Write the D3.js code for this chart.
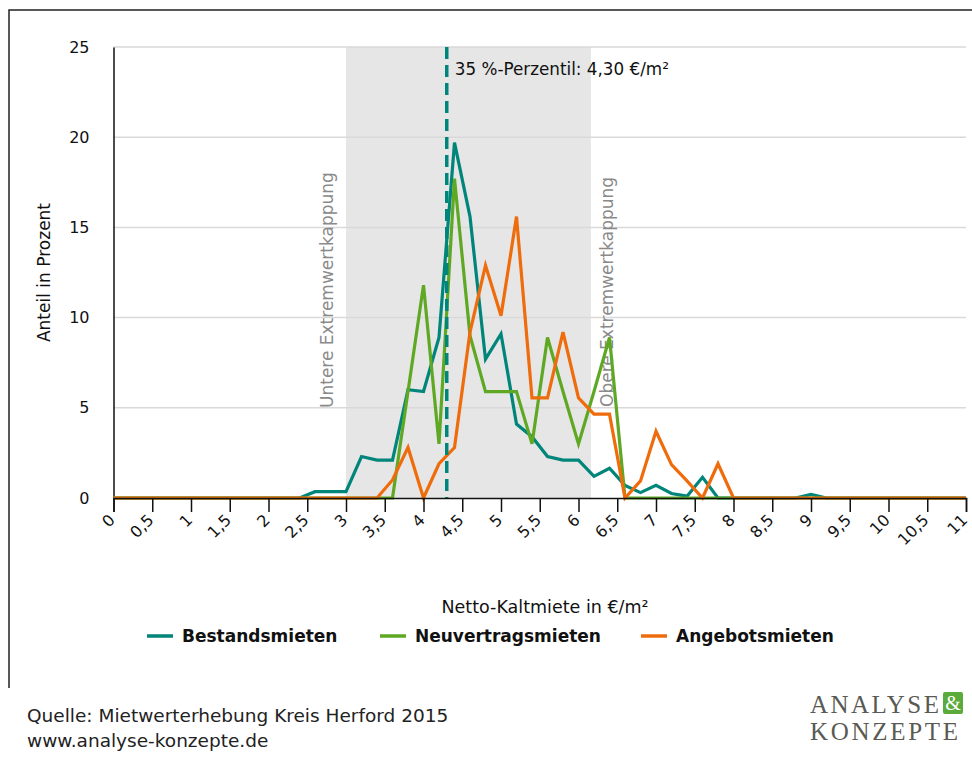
<!DOCTYPE html>
<html>
<head>
<meta charset="utf-8">
<script src="https://cdn.jsdelivr.net/npm/d3@7"></script>
<style>
  body { margin: 0; background: #fff; }
  svg { display: block; font-family: "DejaVu Sans", Verdana, sans-serif; }
</style>
</head>
<body>
<div id="result"></div>
<script>
// Mietpreise in €/m², Schritte zu 0,2
var miete = [0, 0.2, 0.4, 0.6, 0.8, 1, 1.2, 1.4, 1.6, 1.8, 2, 2.2, 2.4, 2.6, 2.8, 3, 3.2, 3.4, 3.6, 3.8,
  4, 4.2, 4.4, 4.6, 4.8, 5, 5.2, 5.4, 5.6, 5.8, 6, 6.2, 6.4, 6.6, 6.8, 7, 7.2, 7.4, 7.6, 7.8,
  8, 8.2, 8.4, 8.6, 8.8, 9, 9.2, 9.4, 9.6, 9.8, 10, 10.2, 10.4, 10.6, 10.8, 11];

var bestand = [0, 0, 0, 0, 0, 0, 0, 0, 0, 0, 0, 0, 0, 0.35, 0.35, 0.35, 2.3, 2.1, 2.1, 6.0,
  5.9, 8.9, 19.7, 15.6, 7.7, 9.1, 4.1, 3.4, 2.3, 2.1, 2.1, 1.2, 1.65, 0.7, 0.3, 0.7, 0.25, 0.1, 1.15, 0,
  0, 0, 0, 0, 0, 0.2, 0, 0, 0, 0, 0, 0, 0, 0, 0, 0];

var neuvertrag = [0, 0, 0, 0, 0, 0, 0, 0, 0, 0, 0, 0, 0, 0, 0, 0, 0, 0, 0, 5.9,
  11.8, 3.0, 17.7, 9.0, 5.9, 5.9, 5.9, 3.0, 8.9, 5.9, 3.0, 5.9, 8.9, 0, 0, 0, 0, 0, 0, 0,
  0, 0, 0, 0, 0, 0, 0, 0, 0, 0, 0, 0, 0, 0, 0, 0];

var angebot = [0, 0, 0, 0, 0, 0, 0, 0, 0, 0, 0, 0, 0, 0, 0, 0, 0, 0, 1.0, 2.8,
  0, 1.9, 2.8, 9.2, 12.9, 10.1, 15.6, 5.55, 5.55, 9.2, 5.55, 4.65, 4.65, 0, 0.95, 3.7, 1.85, 0.95, 0, 1.9,
  0, 0, 0, 0, 0, 0, 0, 0, 0, 0, 0, 0, 0, 0, 0, 0];

var serien = ["Bestandsmieten", "Neuvertragsmieten", "Angebotsmieten"];
var farben = ["#00857a", "#5fa823", "#ef6c0c"];

var xTicks = [0, 0.5, 1, 1.5, 2, 2.5, 3, 3.5, 4, 4.5, 5, 5.5, 6, 6.5, 7, 7.5, 8, 8.5, 9, 9.5, 10, 10.5, 11];
var xTickLabels = ["0", "0,5", "1", "1,5", "2", "2,5", "3", "3,5", "4", "4,5", "5", "5,5", "6", "6,5",
  "7", "7,5", "8", "8,5", "9", "9,5", "10", "10,5", "11"];
var yTicks = [0, 5, 10, 15, 20, 25];

var kappung = [3, 6.16];   // untere / obere Extremwertkappung
var perzentil = 4.30;

var width = 972, height = 760;

var x = d3.scaleLinear().domain([0, 11]).range([113.5, 966]);
var y = d3.scaleLinear().domain([0, 25]).range([498, 47]);

var svg = d3.select("#result").append("svg")
    .attr("width", width)
    .attr("height", height);

svg.append("rect").attr("width", width).attr("height", height).attr("fill", "#fff");

// rahmen oben und links
svg.append("path")
    .attr("d", "M9,688V10H972")
    .attr("fill", "none")
    .attr("stroke", "#222")
    .attr("stroke-width", 1.5);

// kappungsbereich
svg.append("rect")
    .attr("x", x(kappung[0]))
    .attr("y", y(25))
    .attr("width", x(kappung[1]) - x(kappung[0]))
    .attr("height", y(0) - y(25))
    .attr("fill", "#e6e6e6");

// gitternetz
svg.append("g")
  .selectAll("line")
  .data(yTicks.slice(1))
  .enter().append("line")
    .attr("x1", x(0)).attr("x2", x(11))
    .attr("y1", function(d) { return y(d); })
    .attr("y2", function(d) { return y(d); })
    .attr("stroke", "#d9d9d9")
    .attr("stroke-width", 1.5);

var yAxis = d3.axisLeft(y)
    .tickValues(yTicks)
    .tickSize(0)
    .tickPadding(24);

svg.append("g")
    .attr("transform", "translate(" + x(0) + ",0)")
    .call(yAxis)
    .call(function(g) {
      g.select(".domain").attr("stroke", "#111").attr("stroke-width", 1.5);
      g.selectAll("text").attr("font-size", 16).attr("fill", "#111").attr("font-family", "DejaVu Sans");
    });

svg.append("text")
    .attr("transform", "translate(50," + y(12.5) + ") rotate(-90)")
    .attr("text-anchor", "middle")
    .attr("font-size", 17)
    .attr("fill", "#111")
    .text("Anteil in Prozent");

// kappungstexte
svg.append("text")
    .attr("transform", "translate(333,408) rotate(-90)")
    .attr("font-size", 17)
    .attr("fill", "#8a8a8a")
    .text("Untere Extremwertkappung");

svg.append("text")
    .attr("transform", "translate(613,407) rotate(-90)")
    .attr("font-size", 17)
    .attr("fill", "#8a8a8a")
    .text("Obere Extremwertkappung");

// linien
var line = d3.line()
    .x(function(d) { return x(d[0]); })
    .y(function(d) { return y(d[1]); })
    .curve(d3.curveLinear);

[bestand, neuvertrag, angebot].forEach(function(werte, i) {
  svg.append("path")
    .datum(werte.map(function(v, j) { return [miete[j], v]; }))
    .attr("d", line)
    .attr("fill", "none")
    .attr("stroke", farben[i])
    .attr("stroke-width", 3.2)
    .attr("stroke-linejoin", "miter");
});

// 35%-perzentil
svg.append("line")
    .attr("x1", x(perzentil)).attr("x2", x(perzentil))
    .attr("y1", y(25)).attr("y2", y(0))
    .attr("stroke", "#00857a")
    .attr("stroke-width", 3.5)
    .attr("stroke-dasharray", "12,6");

svg.append("text")
    .attr("x", x(perzentil) + 8)
    .attr("y", 75)
    .attr("font-size", 16.8)
    .attr("fill", "#111")
    .text("35 %-Perzentil: 4,30 €/m²");

// x-achse
var xAxis = d3.axisBottom(x)
    .tickValues(xTicks)
    .tickSize(14)
    .tickFormat(function(d, i) { return xTickLabels[i]; });

var gx = svg.append("g")
    .attr("transform", "translate(0," + y(0) + ")")
    .call(xAxis);

gx.select(".domain").attr("stroke", "#111").attr("stroke-width", 1.5);
gx.selectAll(".tick line").attr("stroke", "#111").attr("stroke-width", 1.5);
gx.selectAll(".tick text")
    .attr("font-size", 16)
    .attr("font-family", "DejaVu Sans")
    .attr("fill", "#111")
    .attr("text-anchor", "end")
    .attr("dy", null)
    .attr("y", 0)
    .attr("transform", "translate(2,23) rotate(-45)");

svg.append("text")
    .attr("x", 545)
    .attr("y", 613)
    .attr("text-anchor", "middle")
    .attr("font-size", 17.5)
    .attr("fill", "#111")
    .text("Netto-Kaltmiete in €/m²");

// legende
var legX = [147, 380, 641];
var leg = svg.append("g").selectAll("g")
    .data(serien)
    .enter().append("g")
    .attr("transform", function(d, i) { return "translate(" + legX[i] + ",636)"; });

leg.append("line")
    .attr("x1", 0).attr("x2", 26)
    .attr("stroke", function(d, i) { return farben[i]; })
    .attr("stroke-width", 3.5);

leg.append("text")
    .attr("x", 35)
    .attr("dy", "0.35em")
    .attr("font-size", 17)
    .attr("font-weight", "bold")
    .attr("fill", "#111")
    .text(function(d) { return d; });

// quelle
svg.append("text")
    .attr("x", 27).attr("y", 722)
    .attr("font-size", 18.5)
    .attr("fill", "#222")
    .text("Quelle: Mietwerterhebung Kreis Herford 2015");

svg.append("text")
    .attr("x", 27).attr("y", 747)
    .attr("font-size", 18.5)
    .attr("fill", "#222")
    .text("www.analyse-konzepte.de");

// logo
var logo = svg.append("g")
    .attr("font-family", "Liberation Serif, DejaVu Serif, serif")
    .attr("fill", "#5a5a55");

logo.append("text")
    .attr("x", 810).attr("y", 713)
    .attr("font-size", 25)
    .attr("textLength", 129)
    .text("ANALYSE");

logo.append("rect")
    .attr("x", 943).attr("y", 692)
    .attr("width", 20).attr("height", 22)
    .attr("rx", 2)
    .attr("fill", "#5aaa3c");

logo.append("text")
    .attr("x", 953).attr("y", 710)
    .attr("text-anchor", "middle")
    .attr("font-size", 20)
    .attr("fill", "#fff")
    .text("&");

logo.append("text")
    .attr("x", 810).attr("y", 740)
    .attr("font-size", 25)
    .attr("textLength", 148)
    .text("KONZEPTE");
</script>
</body>
</html>
